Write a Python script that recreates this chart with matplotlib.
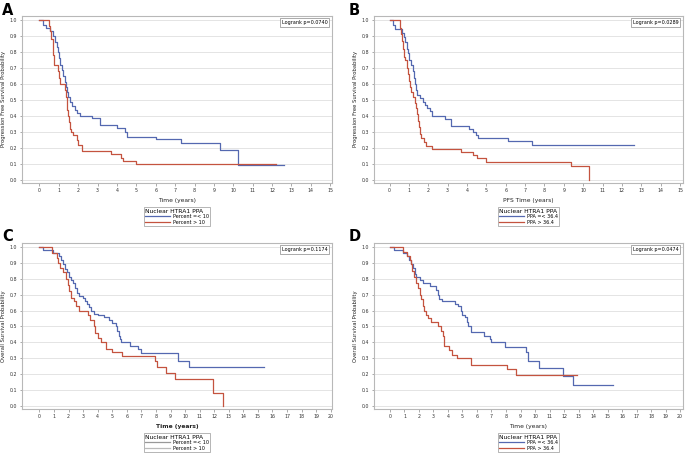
import matplotlib.pyplot as plt
from matplotlib.lines import Line2D

# ---------------------------------------------------------
# Kaplan-Meier step data (time, survival)
# A : PFS, cut at 10 percent
a_lo_t = [0, 0.2, 0.35, 0.55, 0.7, 0.8, 0.9, 0.95, 1.0, 1.05, 1.15, 1.2, 1.3, 1.35, 1.4, 1.5, 1.6, 1.7, 1.85, 1.95, 2.1, 2.7, 3.13, 4.0, 4.4, 4.5, 6.0, 7.3, 9.3, 10.25, 12.6]
a_lo_s = [1.0, 0.97, 0.95, 0.93, 0.90, 0.86, 0.83, 0.80, 0.76, 0.72, 0.69, 0.65, 0.61, 0.58, 0.55, 0.52, 0.49, 0.46, 0.44, 0.42, 0.40, 0.385, 0.345, 0.325, 0.30, 0.27, 0.255, 0.23, 0.19, 0.095, 0.095]
a_hi_t = [0, 0.5, 0.55, 0.6, 0.68, 0.72, 0.75, 0.95, 1.0, 1.05, 1.3, 1.35, 1.4, 1.45, 1.5, 1.55, 1.6, 1.65, 1.75, 1.95, 2.0, 2.2, 3.7, 4.2, 4.3, 5.0, 12.2]
a_hi_s = [1.0, 0.96, 0.93, 0.88, 0.84, 0.78, 0.72, 0.68, 0.64, 0.60, 0.56, 0.52, 0.48, 0.44, 0.40, 0.36, 0.32, 0.30, 0.28, 0.25, 0.22, 0.18, 0.16, 0.14, 0.12, 0.10, 0.10]

# B : PFS, cut at 36.4
b_lo_t = [0, 0.2, 0.3, 0.65, 0.75, 0.82, 0.9, 0.95, 1.0, 1.1, 1.2, 1.25, 1.3, 1.35, 1.4, 1.6, 1.75, 1.85, 1.95, 2.1, 2.2, 2.85, 3.2, 4.1, 4.3, 4.45, 4.55, 6.1, 7.35, 12.6]
b_lo_s = [1.0, 0.97, 0.94, 0.92, 0.89, 0.86, 0.82, 0.79, 0.75, 0.72, 0.68, 0.64, 0.60, 0.56, 0.53, 0.51, 0.49, 0.47, 0.45, 0.43, 0.40, 0.38, 0.34, 0.32, 0.30, 0.28, 0.265, 0.245, 0.22, 0.22]
b_hi_t = [0, 0.5, 0.55, 0.6, 0.65, 0.7, 0.73, 0.8, 0.9, 0.95, 1.0, 1.05, 1.1, 1.2, 1.3, 1.35, 1.4, 1.45, 1.5, 1.55, 1.65, 1.8, 1.9, 2.2, 3.7, 4.3, 4.5, 5.0, 9.35, 10.3, 10.3]
b_hi_s = [1.0, 1.0, 0.95, 0.91, 0.87, 0.82, 0.77, 0.75, 0.70, 0.66, 0.62, 0.58, 0.55, 0.52, 0.48, 0.45, 0.41, 0.37, 0.33, 0.29, 0.26, 0.24, 0.21, 0.195, 0.175, 0.155, 0.135, 0.115, 0.09, 0.0, 0.0]

# C : OS, cut at 10 percent
c_lo_t = [0, 0.25, 0.9, 1.35, 1.5, 1.6, 1.75, 1.9, 2.05, 2.15, 2.3, 2.45, 2.55, 2.7, 3.0, 3.15, 3.3, 3.4, 3.55, 3.75, 4.0, 4.4, 4.75, 5.0, 5.25, 5.35, 5.45, 5.5, 5.6, 6.2, 6.8, 7.0, 9.5, 10.25, 15.4]
c_lo_s = [1.0, 0.98, 0.96, 0.94, 0.92, 0.89, 0.86, 0.84, 0.81, 0.79, 0.77, 0.74, 0.71, 0.69, 0.68, 0.66, 0.64, 0.62, 0.60, 0.58, 0.57, 0.56, 0.54, 0.52, 0.50, 0.47, 0.44, 0.42, 0.40, 0.38, 0.36, 0.335, 0.28, 0.245, 0.245]
c_hi_t = [0, 0.85, 1.2, 1.3, 1.4, 1.6, 1.8, 1.95, 2.05, 2.15, 2.35, 2.5, 2.75, 3.35, 3.5, 3.75, 3.85, 4.0, 4.25, 4.6, 5.0, 5.7, 7.95, 8.1, 8.7, 9.3, 11.9, 12.6, 12.6]
c_hi_s = [1.0, 0.96, 0.93, 0.90, 0.87, 0.84, 0.80, 0.76, 0.72, 0.68, 0.66, 0.63, 0.60, 0.57, 0.54, 0.50, 0.46, 0.43, 0.40, 0.36, 0.34, 0.315, 0.28, 0.245, 0.21, 0.17, 0.085, 0.0, 0.0]

# D : OS, cut at 36.4
d_lo_t = [0, 0.3, 0.9, 1.2, 1.3, 1.45, 1.6, 1.7, 1.8, 2.1, 2.3, 2.75, 3.2, 3.3, 3.35, 3.6, 4.45, 4.7, 4.9, 5.0, 5.2, 5.3, 5.4, 5.6, 6.45, 6.9, 7.0, 7.9, 9.35, 9.5, 10.3, 11.9, 12.6, 15.4]
d_lo_s = [1.0, 0.98, 0.96, 0.94, 0.92, 0.89, 0.87, 0.83, 0.81, 0.79, 0.77, 0.755, 0.73, 0.70, 0.67, 0.66, 0.64, 0.63, 0.60, 0.57, 0.56, 0.53, 0.50, 0.465, 0.44, 0.42, 0.40, 0.37, 0.34, 0.28, 0.24, 0.19, 0.13, 0.13]
d_hi_t = [0, 0.9, 1.2, 1.35, 1.45, 1.55, 1.65, 1.8, 1.95, 2.05, 2.15, 2.25, 2.35, 2.5, 2.6, 2.8, 3.3, 3.5, 3.65, 3.7, 3.75, 4.1, 4.25, 4.6, 5.6, 8.1, 8.7, 12.9]
d_hi_s = [1.0, 0.97, 0.94, 0.92, 0.89, 0.85, 0.81, 0.77, 0.74, 0.70, 0.67, 0.63, 0.60, 0.57, 0.55, 0.53, 0.50, 0.47, 0.44, 0.41, 0.375, 0.35, 0.32, 0.30, 0.26, 0.23, 0.195, 0.195]

pvals = ['Logrank p=0.0740', 'Logrank p=0.0289', 'Logrank p=0.1174', 'Logrank p=0.0474']
ylabels = ['Progression Free Survival Probability', 'Progression Free Survival Probability',
           'Overall Survival Probability', 'Overall Survival Probability']
xlabels = ['Time (years)', 'PFS Time (years)', 'Time (years)', 'Time (years)']
leg_labels = [['Percent =< 10', 'Percent > 10'], ['PPA =< 36.4', 'PPA > 36.4'],
              ['Percent =< 10', 'Percent > 10'], ['PPA =< 36.4', 'PPA > 36.4']]
letters = ['A', 'B', 'C', 'D']

blue = '#5468b0'
red = '#c4533f'
frame = '#b8b8b8'

fig = plt.figure(figsize=(6.85, 4.54), dpi=100)
rects = [[0.032, 0.597, 0.453, 0.368], [0.546, 0.597, 0.451, 0.368],
         [0.032, 0.099, 0.453, 0.366], [0.546, 0.099, 0.451, 0.366]]
xl = [(-0.9, 15.1), (-0.8, 15.15), (-1.2, 20.1), (-1.1, 20.2)]
xmax = [15, 15, 20, 20]
curves = [(a_lo_t, a_lo_s, a_hi_t, a_hi_s), (b_lo_t, b_lo_s, b_hi_t, b_hi_s),
          (c_lo_t, c_lo_s, c_hi_t, c_hi_s), (d_lo_t, d_lo_s, d_hi_t, d_hi_s)]
letter_pos = [(0.003, 0.994), (0.509, 0.994), (0.003, 0.496), (0.509, 0.496)]

for i in range(4):
    ax = fig.add_axes(rects[i])
    lt, ls, ht, hs = curves[i]
    ax.step(lt, ls, where='post', color=blue, lw=0.9)
    ax.step(ht, hs, where='post', color=red, lw=0.9)
    ax.set_xlim(xl[i])
    ax.set_ylim(-0.019, 1.025)
    ax.set_xticks(range(0, xmax[i] + 1))
    ax.set_yticks([k / 10 for k in range(11)])
    ax.set_yticklabels(['%.1f' % (k / 10) for k in range(11)])
    ax.yaxis.grid(True, color='#e4e4e4', lw=0.7)
    ax.set_axisbelow(True)
    for sp in ax.spines.values():
        sp.set_color(frame)
        sp.set_linewidth(0.8)
    ax.tick_params(labelsize=3.4, length=1.8, width=0.5, color='#888888', pad=1.5, labelcolor='#333333')
    ax.set_ylabel(ylabels[i], fontsize=3.8, labelpad=2.5, color='#222222')
    ax.set_xlabel(xlabels[i], fontsize=4.3, labelpad=4, color='#222222',
                  fontweight='bold' if i == 2 else 'normal')
    ax.text(0.985, 0.975, pvals[i], transform=ax.transAxes, ha='right', va='top', fontsize=3.5,
            bbox=dict(boxstyle='square,pad=0.35', fc='white', ec='#888888', lw=0.5))
    if i == 2:
        hc = ['#999999', '#bbbbbb']
    else:
        hc = [blue, red]
    handles = [Line2D([0], [0], color=hc[0], lw=0.9), Line2D([0], [0], color=hc[1], lw=0.9)]
    leg = ax.legend(handles, leg_labels[i], title='Nuclear HTRA1 PPA', loc='upper center',
                    bbox_to_anchor=(0.5, -0.145), fontsize=3.5, title_fontsize=4.3,
                    frameon=True, fancybox=False, edgecolor='#999999', framealpha=1,
                    handlelength=5, handletextpad=0.6, labelspacing=0.1,
                    borderpad=0.3, borderaxespad=0, markerfirst=True, alignment='left')
    leg.get_frame().set_linewidth(0.5)
    fig.text(letter_pos[i][0], letter_pos[i][1], letters[i], ha='left', va='top',
             fontsize=10.5, fontweight='bold')

plt.savefig('out.png', dpi=100)
